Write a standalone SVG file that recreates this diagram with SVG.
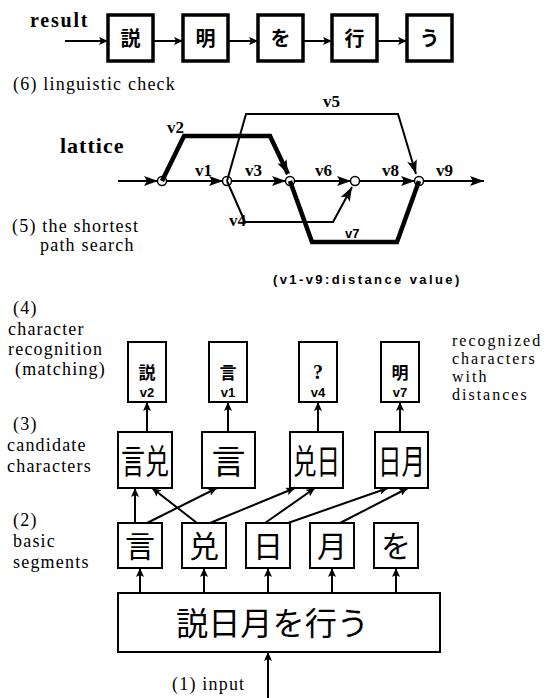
<svg xmlns="http://www.w3.org/2000/svg" width="555" height="698" viewBox="0 0 555 698">
<defs>
<marker id="ah" markerUnits="userSpaceOnUse" markerWidth="15" markerHeight="10" refX="14" refY="5" orient="auto">
<path d="M0,0 L14,5 L0,10 L3,5 z" fill="#000"/>
</marker>
<marker id="as" markerUnits="userSpaceOnUse" markerWidth="10" markerHeight="8" refX="9" refY="4" orient="auto">
<path d="M0,0 L9,4 L0,8 L2,4 z" fill="#000"/>
</marker>
</defs>
<style>
.lbl{font-family:"Liberation Serif",serif;font-size:18px;letter-spacing:1.2px;fill:#000}
.rt{font-family:"Liberation Serif",serif;font-size:16px;letter-spacing:2px;fill:#000}
.bl{font-family:"Liberation Serif",serif;font-weight:bold;fill:#000}
.vl{font-family:"Liberation Serif",serif;font-weight:bold;font-size:17px;fill:#000}
.sv{font-family:"Liberation Sans",sans-serif;font-weight:bold;font-size:13px;fill:#000}
.cj{font-family:"Noto Sans CJK JP","Noto Sans CJK SC",sans-serif;fill:#000}
.tb{fill:#fff;stroke:#000;stroke-width:3.5}
.bx{fill:#fff;stroke:#000;stroke-width:2}
.ln{fill:none;stroke:#000;stroke-width:2}
.th{fill:none;stroke:#000;stroke-width:4.5;stroke-linejoin:miter}
.nd{fill:#fff;stroke:#000;stroke-width:1.5}
</style>

<g id="labels">
<text class="bl" x="30" y="27" font-size="20" letter-spacing="1.8">result</text>
<text class="lbl" x="13" y="90">(6) linguistic check</text>
<text class="bl" x="60" y="153" font-size="22" letter-spacing="1">lattice</text>
<text class="lbl" x="12" y="232">(5) the shortest</text>
<text class="lbl" x="40" y="251">path search</text>
<text class="sv" x="273" y="284" font-size="15" letter-spacing="2.4">(v1-v9:distance value)</text>
<text class="lbl" x="13" y="314">(4)</text>
<text class="lbl" x="8" y="335">character</text>
<text class="lbl" x="8" y="355">recognition</text>
<text class="lbl" x="15" y="375">(matching)</text>
<text class="rt" x="452" y="346">recognized</text>
<text class="rt" x="452" y="364">characters</text>
<text class="rt" x="452" y="382">with</text>
<text class="rt" x="452" y="400">distances</text>
<text class="lbl" x="13" y="430">(3)</text>
<text class="lbl" x="7" y="451">candidate</text>
<text class="lbl" x="7" y="472">characters</text>
<text class="lbl" x="13" y="526">(2)</text>
<text class="lbl" x="13" y="547">basic</text>
<text class="lbl" x="13" y="568">segments</text>
<text class="lbl" x="172" y="690">(1) input</text>
</g>

<g id="r1"><rect class="tb" x="108" y="15" width="45" height="46"/><text class="cj" x="130.5" y="46" font-size="20" font-weight="bold" text-anchor="middle">説</text></g>
<g id="r2"><rect class="tb" x="183" y="15" width="45" height="46"/><text class="cj" x="205.5" y="46" font-size="20" font-weight="bold" text-anchor="middle">明</text></g>
<g id="r3"><rect class="tb" x="258" y="15" width="45" height="46"/><text class="cj" x="280.5" y="46" font-size="20" font-weight="bold" text-anchor="middle">を</text></g>
<g id="r4"><rect class="tb" x="332" y="15" width="45" height="46"/><text class="cj" x="354.5" y="46" font-size="20" font-weight="bold" text-anchor="middle">行</text></g>
<g id="r5"><rect class="tb" x="407" y="15" width="45" height="46"/><text class="cj" x="429.5" y="46" font-size="20" font-weight="bold" text-anchor="middle">う</text></g>

<g id="n1"><circle class="nd" cx="162" cy="181" r="4.5"/></g>
<g id="n2"><circle class="nd" cx="227" cy="181" r="4.5"/></g>
<g id="n3"><circle class="nd" cx="290" cy="181" r="4.5"/></g>
<g id="n4"><circle class="nd" cx="355" cy="181" r="4.5"/></g>
<g id="n5"><circle class="nd" cx="419" cy="181" r="4.5"/></g>

<g id="m1"><rect class="bx" x="128" y="342" width="38" height="60"/><text class="cj" x="147" y="379" font-size="17" font-weight="bold" text-anchor="middle">説</text><text class="sv" x="147" y="397" text-anchor="middle">v2</text></g>
<g id="m2"><rect class="bx" x="209" y="342" width="38" height="60"/><text class="cj" x="228" y="379" font-size="17" font-weight="bold" text-anchor="middle">言</text><text class="sv" x="228" y="397" text-anchor="middle">v1</text></g>
<g id="m3"><rect class="bx" x="299" y="342" width="38" height="60"/><text class="bl" x="318" y="379" font-size="20" text-anchor="middle">?</text><text class="sv" x="318" y="397" text-anchor="middle">v4</text></g>
<g id="m4"><rect class="bx" x="381" y="342" width="38" height="60"/><text class="cj" x="400" y="379" font-size="17" font-weight="bold" text-anchor="middle">明</text><text class="sv" x="400" y="397" text-anchor="middle">v7</text></g>

<g id="c1"><rect class="bx" x="118" y="432" width="54" height="56"/><text class="cj" x="121" y="474" font-size="34" textLength="48" lengthAdjust="spacingAndGlyphs">言兑</text></g>
<g id="c2"><rect class="bx" x="202" y="432" width="53" height="56"/><text class="cj" x="228.5" y="474" font-size="34" text-anchor="middle">言</text></g>
<g id="c3"><rect class="bx" x="290" y="432" width="53" height="56"/><text class="cj" x="293" y="474" font-size="34" textLength="47" lengthAdjust="spacingAndGlyphs">兑日</text></g>
<g id="c4"><rect class="bx" x="375" y="432" width="53" height="56"/><text class="cj" x="378" y="474" font-size="34" textLength="47" lengthAdjust="spacingAndGlyphs">日月</text></g>

<g id="s1"><rect class="bx" x="118" y="523" width="44" height="45"/><text class="cj" x="140" y="557" font-size="30" text-anchor="middle">言</text></g>
<g id="s2"><rect class="bx" x="182" y="523" width="44" height="45"/><text class="cj" x="204" y="557" font-size="30" text-anchor="middle">兑</text></g>
<g id="s3"><rect class="bx" x="246" y="523" width="44" height="45"/><text class="cj" x="268" y="557" font-size="30" text-anchor="middle">日</text></g>
<g id="s4"><rect class="bx" x="310" y="523" width="44" height="45"/><text class="cj" x="332" y="557" font-size="30" text-anchor="middle">月</text></g>
<g id="s5"><rect class="bx" x="374" y="523" width="44" height="45"/><text class="cj" x="396" y="557" font-size="30" text-anchor="middle">を</text></g>

<g id="inp"><rect class="bx" x="118" y="593" width="322" height="59"/><text class="cj" x="176" y="635" font-size="32" textLength="193" lengthAdjust="spacingAndGlyphs">説日月を行う</text></g>

<g id="connectors">
<line class="ln" x1="65" y1="41" x2="108" y2="41" marker-end="url(#as)"/>
<line class="ln" x1="153" y1="41" x2="183" y2="41" marker-end="url(#as)"/>
<line class="ln" x1="228" y1="41" x2="258" y2="41" marker-end="url(#as)"/>
<line class="ln" x1="303" y1="41" x2="332" y2="41" marker-end="url(#as)"/>
<line class="ln" x1="377" y1="41" x2="407" y2="41" marker-end="url(#as)"/>
<line class="ln" x1="118" y1="181" x2="158" y2="181" marker-end="url(#ah)"/>
<line class="ln" x1="166" y1="181" x2="223" y2="181" marker-end="url(#ah)"/>
<line class="ln" x1="231" y1="181" x2="286" y2="181" marker-end="url(#ah)"/>
<line class="ln" x1="294" y1="181" x2="351" y2="181" marker-end="url(#ah)"/>
<line class="ln" x1="359" y1="181" x2="415" y2="181" marker-end="url(#ah)"/>
<line class="ln" x1="423" y1="181" x2="484" y2="181" marker-end="url(#ah)"/>
<path class="th" d="M162,181 L184,136 L270,136 L288,174" marker-end="url(#ah)"/>
<path class="ln" d="M227,181 L246,114 L398,114 L416,174" marker-end="url(#ah)"/>
<path class="ln" stroke-width="1.5" d="M227,181 L245,222 L333,222 L352,187" marker-end="url(#ah)"/>
<path class="th" d="M290,181 L312,242 L397,242 L419,181"/>
<line class="ln" x1="147" y1="432" x2="147" y2="402" marker-end="url(#as)"/>
<line class="ln" x1="228" y1="432" x2="228" y2="402" marker-end="url(#as)"/>
<line class="ln" x1="318" y1="432" x2="318" y2="402" marker-end="url(#as)"/>
<line class="ln" x1="400" y1="432" x2="400" y2="402" marker-end="url(#as)"/>
<line class="ln" x1="135" y1="523" x2="135" y2="488" marker-end="url(#as)"/>
<line class="ln" x1="147" y1="523" x2="217" y2="488" marker-end="url(#as)"/>
<line class="ln" x1="197" y1="523" x2="152" y2="488" marker-end="url(#as)"/>
<line class="ln" x1="210" y1="523" x2="295" y2="488" marker-end="url(#as)"/>
<line class="ln" x1="265" y1="523" x2="315" y2="488" marker-end="url(#as)"/>
<line class="ln" x1="288" y1="523" x2="388" y2="488" marker-end="url(#as)"/>
<line class="ln" x1="340" y1="523" x2="408" y2="488" marker-end="url(#as)"/>
<line class="ln" x1="140" y1="593" x2="140" y2="568" marker-end="url(#as)"/>
<line class="ln" x1="204" y1="593" x2="204" y2="568" marker-end="url(#as)"/>
<line class="ln" x1="268" y1="593" x2="268" y2="568" marker-end="url(#as)"/>
<line class="ln" x1="332" y1="593" x2="332" y2="568" marker-end="url(#as)"/>
<line class="ln" x1="396" y1="593" x2="396" y2="568" marker-end="url(#as)"/>
<line class="ln" x1="268" y1="698" x2="268" y2="652" marker-end="url(#as)"/>
</g>

<g id="vlabels">
<text class="vl" x="167" y="133">v2</text>
<text class="vl" x="323" y="107">v5</text>
<text class="vl" x="195" y="176">v1</text>
<text class="vl" x="245" y="176">v3</text>
<text class="vl" x="315" y="176">v6</text>
<text class="vl" x="382" y="176">v8</text>
<text class="vl" x="436" y="176">v9</text>
<text class="vl" x="229" y="226">v4</text>
<text class="sv" x="345" y="238" font-size="14">v7</text>
</g>
</svg>
